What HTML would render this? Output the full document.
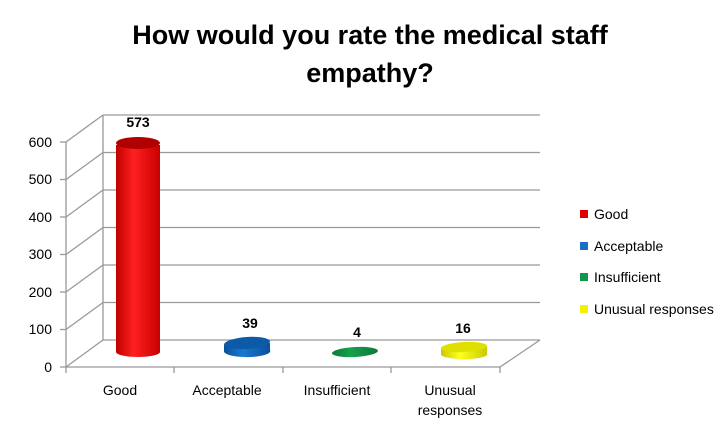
<!DOCTYPE html>
<html><head><style>body{margin:0;background:#fff}</style></head><body>
<svg width="727" height="431" viewBox="0 0 727 431" xmlns="http://www.w3.org/2000/svg" font-family="Liberation Sans, sans-serif">
<defs>
<linearGradient id="r" x1="0" x2="1"><stop offset="0" stop-color="#c00000"/><stop offset=".4" stop-color="#ff2020"/><stop offset="1" stop-color="#c80000"/></linearGradient>
<linearGradient id="b" x1="0" x2="1"><stop offset="0" stop-color="#0a4f9a"/><stop offset=".4" stop-color="#1a7ad0"/><stop offset="1" stop-color="#0a4f9a"/></linearGradient>
<linearGradient id="g" x1="0" x2="1"><stop offset="0" stop-color="#0a7a3a"/><stop offset=".4" stop-color="#18a04c"/><stop offset="1" stop-color="#0a7a3a"/></linearGradient>
<linearGradient id="y" x1="0" x2="1"><stop offset="0" stop-color="#c8c800"/><stop offset=".4" stop-color="#ffff20"/><stop offset="1" stop-color="#c8c800"/></linearGradient>
</defs>
<text x="370" y="44" font-size="27" font-weight="bold" text-anchor="middle">How would you rate the medical staff</text>
<text x="370" y="82" font-size="27" font-weight="bold" text-anchor="middle">empathy?</text>
<g stroke="#999" stroke-width="1.3" fill="none">
<line x1="103" y1="115" x2="540" y2="115"/><line x1="103" y1="152.5" x2="540" y2="152.5"/><line x1="103" y1="190" x2="540" y2="190"/><line x1="103" y1="227.5" x2="540" y2="227.5"/><line x1="103" y1="265" x2="540" y2="265"/><line x1="103" y1="302.5" x2="540" y2="302.5"/><line x1="103" y1="340" x2="540" y2="340"/>
<line x1="66" y1="142" x2="103" y2="115"/><line x1="66" y1="179.5" x2="103" y2="152.5"/><line x1="66" y1="217" x2="103" y2="190"/><line x1="66" y1="254.5" x2="103" y2="227.5"/><line x1="66" y1="292" x2="103" y2="265"/><line x1="66" y1="329.5" x2="103" y2="302.5"/><line x1="66" y1="367" x2="103" y2="340"/>
<line x1="103" y1="115" x2="103" y2="340"/><line x1="66" y1="142" x2="66" y2="367"/>
<line x1="66" y1="367" x2="500" y2="367"/><line x1="500" y1="367" x2="540" y2="340"/>
<line x1="60" y1="142" x2="66" y2="142"/><line x1="60" y1="179.5" x2="66" y2="179.5"/><line x1="60" y1="217" x2="66" y2="217"/><line x1="60" y1="254.5" x2="66" y2="254.5"/><line x1="60" y1="292" x2="66" y2="292"/><line x1="60" y1="329.5" x2="66" y2="329.5"/><line x1="60" y1="367" x2="66" y2="367"/>
<line x1="66" y1="367" x2="66" y2="373"/><line x1="174" y1="367" x2="174" y2="373"/><line x1="283" y1="367" x2="283" y2="373"/><line x1="391" y1="367" x2="391" y2="373"/><line x1="500" y1="367" x2="500" y2="373"/>
</g>
<g font-size="14" text-anchor="end" fill="#000"><text x="52" y="147">600</text><text x="52" y="184">500</text><text x="52" y="222">400</text><text x="52" y="259">300</text><text x="52" y="297">200</text><text x="52" y="334">100</text><text x="52" y="372">0</text></g>
<path d="M116 145 L116 352 A22 5 0 0 0 160 352 L160 145 Z" fill="url(#r)"/><ellipse cx="138" cy="143" rx="22" ry="6" fill="#b00000"/>
<path d="M224 345 L224 352 A23 6 0 0 0 270 350 L270 343 Z" fill="url(#b)"/><ellipse cx="247" cy="343" rx="23" ry="6" transform="rotate(-4 247 343)" fill="#0c5aa8"/>
<ellipse cx="355" cy="352" rx="23" ry="5" transform="rotate(-3 355 352)" fill="url(#g)"/>
<path d="M441 348 L441 355 A23 5 0 0 0 487 353 L487 346 Z" fill="url(#y)"/><ellipse cx="464" cy="347" rx="23" ry="5" transform="rotate(-3 464 347)" fill="#e0e000"/>
<g font-size="14" font-weight="bold" text-anchor="middle"><text x="138" y="127">573</text><text x="250" y="328">39</text><text x="357" y="337">4</text><text x="463" y="333">16</text></g>
<g font-size="14" text-anchor="middle"><text x="120" y="395">Good</text><text x="227" y="395">Acceptable</text><text x="337" y="395">Insufficient</text><text x="450" y="395">Unusual</text><text x="450" y="415">responses</text></g>
<rect x="580" y="210" width="8" height="8" fill="#e00000"/><rect x="580" y="242" width="8" height="8" fill="#1a6fc4"/><rect x="580" y="273" width="8" height="8" fill="#12944a"/><rect x="580" y="305" width="8" height="8" fill="#f0f000"/>
<g font-size="14"><text x="594" y="219">Good</text><text x="594" y="251">Acceptable</text><text x="594" y="282">Insufficient</text><text x="594" y="314">Unusual responses</text></g>
</svg>
</body></html>
